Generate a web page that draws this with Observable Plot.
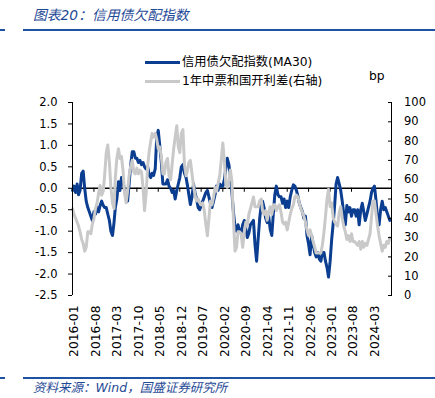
<!DOCTYPE html>
<html><head><meta charset="utf-8">
<script src="https://cdn.jsdelivr.net/npm/d3@7"></script>
<script src="https://cdn.jsdelivr.net/npm/@observablehq/plot@0.6"></script>
<style>
body{margin:0;background:#fff;}
#wrap{position:relative;width:435px;height:398px;overflow:hidden;font-family:"DejaVu Sans","Noto Sans CJK SC",sans-serif;color:#000;}
.abs{position:absolute;white-space:nowrap;}
#chart{position:absolute;left:0;top:0;}
</style></head><body>
<div id="wrap">
  <div id="chart"></div>
  <div class="abs" id="title" style="left:33px;top:6px;font-size:13.8px;line-height:18px;font-style:italic;color:#1F4A96;"></div>
  <div class="abs" style="left:0;top:29px;width:5px;height:2px;background:#1E53A4;"></div>
  <div class="abs" style="left:23px;top:29px;width:412px;height:2px;background:#1E53A4;"></div>
  <div class="abs" id="leg" style="left:0;top:0;"></div>
  <div class="abs" id="unit" style="left:369px;top:68px;font-size:12.3px;line-height:16px;"></div>
  <div class="abs" style="left:0;top:377px;width:5px;height:1.5px;background:#1E53A4;"></div>
  <div class="abs" style="left:23px;top:377px;width:412px;height:1.5px;background:#1E53A4;"></div>
  <div class="abs" id="source" style="left:33px;top:380px;font-size:12.5px;line-height:16px;font-style:italic;color:#1F4A96;"></div>
</div>
<script>
const titleText = "图表20：信用债欠配指数";
const sourceText = "资料来源：Wind，国盛证券研究所";
const seriesNames = ["信用债欠配指数(MA30)", "1年中票和国开利差(右轴)"];
const seriesColors = ["#0B3D91", "#C9C9C9"];
const unitText = "bp";

const months = [
  "2016-01","2016-02","2016-03","2016-04","2016-05","2016-06","2016-07","2016-08","2016-09","2016-10","2016-11","2016-12",
  "2017-01","2017-02","2017-03","2017-04","2017-05","2017-06","2017-07","2017-08","2017-09","2017-10","2017-11","2017-12",
  "2018-01","2018-02","2018-03","2018-04","2018-05","2018-06","2018-07","2018-08","2018-09","2018-10","2018-11","2018-12",
  "2019-01","2019-02","2019-03","2019-04","2019-05","2019-06","2019-07","2019-08","2019-09","2019-10","2019-11","2019-12",
  "2020-01","2020-02","2020-03","2020-04","2020-05","2020-06","2020-07","2020-08","2020-09","2020-10","2020-11","2020-12",
  "2021-01","2021-02","2021-03","2021-04","2021-05","2021-06","2021-07","2021-08","2021-09","2021-10","2021-11","2021-12",
  "2022-01","2022-02","2022-03","2022-04","2022-05","2022-06","2022-07","2022-08","2022-09","2022-10","2022-11","2022-12",
  "2023-01","2023-02","2023-03","2023-04","2023-05","2023-06","2023-07","2023-08","2023-09","2023-10","2023-11","2023-12",
  "2024-01","2024-02","2024-03","2024-04","2024-05","2024-06","2024-07","2024-08"
];
const daysOfMonth = ["01", "16"];

// 信用债欠配指数(MA30), left axis, twice a month
const creditIndex = [
  -0.05,0.05,-0.1,0.1,-0.15,-0.05,0.35,0.4,0.0,-0.3,-0.45,-0.55,-0.65,-0.75,-0.55,-0.6,-0.45,-0.55,-0.4,-0.3,-0.4,-0.45,-0.45,-0.6,
  -0.75,-1.0,-1.1,-0.8,-0.45,-0.25,0.15,-0.05,0.25,0.15,-0.05,-0.2,-0.3,0.1,0.55,0.85,0.85,0.7,0.7,0.6,0.65,0.55,0.6,0.5,
  0.45,0.5,0.3,0.25,0.35,0.3,0.45,1.2,1.35,1.0,0.6,0.1,0.1,0.1,0.2,0.05,0.0,-0.1,-0.05,-0.25,-0.05,0.1,0.25,0.5,
  0.55,0.35,0.25,0.05,-0.15,-0.38,-0.2,0.1,-0.1,-0.25,-0.45,-0.5,-0.4,-0.3,-0.2,-0.1,-0.05,-0.2,-0.35,-0.45,-0.3,-0.15,0.05,-0.05,
  0.1,0.05,0.05,0.2,0.45,0.7,0.55,0.3,-0.1,-0.55,-0.9,-1.0,-0.85,-1.0,-1.05,-0.85,-0.75,-0.95,-1.15,-1.05,-0.85,-0.8,-0.75,-1.3,
  -1.7,-1.2,-0.7,-0.4,-0.3,-0.45,-0.7,-0.8,-0.65,-0.95,-1.1,-0.6,-0.15,0.05,-0.15,-0.2,-0.2,-0.35,-0.25,-0.45,-0.3,-0.45,-0.2,-0.05,
  0.08,0.05,-0.05,-0.2,-0.35,-0.45,-0.55,-0.7,-0.65,-1.1,-1.3,-1.55,-1.1,-1.3,-1.5,-1.6,-1.5,-1.65,-1.7,-1.5,-1.5,-1.7,-1.85,-2.07,
  -1.7,-1.2,-0.8,-0.35,0.1,0.25,0.1,-0.05,-0.3,-0.6,-0.85,-0.4,-0.55,-0.45,-0.65,-0.5,-0.5,-0.65,-0.5,-0.85,-0.5,-0.35,-0.55,-0.75,
  -0.6,-0.45,-0.3,-0.1,0.0,0.05,-0.3,-0.7,-0.85,-0.5,-0.3,-0.5,-0.45,-0.55,-0.65,-0.75
];

// 1年中票和国开利差 (bp), right axis, twice a month
const spreadBp = [
  45,42,40,38,36,33,29,27,23,25,33,33,32,37,40,45,48,53,57,52,54,63,74,78,
  69,56,48,45,61,71,76,71,72,65,53,48,54,62,67,70,64,63,66,63,65,64,56,44,
  53,67,75,80,84,82,84,81,76,77,72,63,63,69,71,62,60,68,76,82,88,77,74,84,
  86,68,62,65,69,70,63,57,52,49,50,48,47,48,44,37,31,40,49,47,51,56,54,58,
  62,70,79,70,58,56,60,65,59,40,23,25,33,33,32,25,33,38,36,42,45,48,51,46,
  46,46,49,50,44,42,44,39,43,46,42,47,47,44,46,47,43,38,37,38,34,38,42,45,
  47,51,52,51,48,45,43,41,38,34,31,34,31,28,25,22,22,22,22,26,33,41,50,55,
  46,48,40,38,37,36,43,46,40,36,33,29,31,28,32,28,28,27,26,28,24,28,25,27,
  26,29,32,41,49,49,42,36,31,27,23,26,25,28,27,30
];

const xTickLabels = ["2016-01","2016-08","2017-03","2017-10","2018-05","2018-12","2019-07","2020-02","2020-09","2021-04","2021-11","2022-06","2023-01","2023-08","2024-03"];
const leftTicks = [-2.5,-2.0,-1.5,-1.0,-0.5,0.0,0.5,1.0,1.5,2.0];
const rightTicks = [0,10,20,30,40,50,60,70,80,90,100];
const leftDomain = [-2.5, 2.0];
const rightDomain = [0, 100];
const xDomainText = ["2016-01-01", "2024-09-01"];

// build tables
const dates = months.flatMap(m => daysOfMonth.map(d => new Date(`${m}-${d}`)));
const blueData = creditIndex.map((v, i) => ({date: dates[i], v}));
const grayData = spreadBp.map((bp, i) => ({date: dates[i], bp}));
const toLeft = d3.scaleLinear(rightDomain, leftDomain);
const xTickDates = xTickLabels.map(s => new Date(s + "-01"));
const xDomain = xDomainText.map(s => new Date(s));
const fmtMonth = d3.utcFormat("%Y-%m");

const chart = Plot.plot({
  width: 435, height: 398,
  marginTop: 102, marginBottom: 103, marginLeft: 72, marginRight: 44,
  style: {fontFamily: '"DejaVu Sans", sans-serif', fontSize: "11.5px", color: "#000", background: "transparent", overflow: "visible"},
  x: {type: "utc", domain: xDomain, label: null},
  y: {domain: leftDomain, label: null},
  marks: [
    Plot.ruleY([0], {stroke: "#000", strokeWidth: 1.4}),
    Plot.ruleX(xTickDates, {x: d => d, y1: 0, y2: 0, insetBottom: -4, stroke: "#000", strokeWidth: 1}),
    Plot.line(blueData, {x: "date", y: "v", stroke: seriesColors[0], strokeWidth: 3, strokeLinejoin: "round"}),
    Plot.line(grayData, {x: "date", y: d => toLeft(d.bp), stroke: seriesColors[1], strokeWidth: 3, strokeLinejoin: "round"}),
    Plot.ruleX([xDomain[0]], {stroke: "#000", strokeWidth: 1}),
    Plot.ruleX([xDomain[1]], {stroke: "#000", strokeWidth: 1}),
    Plot.axisY(leftTicks, {anchor: "left", tickFormat: d => d.toFixed(1), tickSize: 4, tickPadding: 11, fontSize: 11.5, label: null}),
    Plot.axisY(rightTicks.map(toLeft), {anchor: "right", tickFormat: v => String(Math.round(toLeft.invert(v))), tickSize: -4, tickPadding: 16.5, fontSize: 11.5, label: null}),
    Plot.axisX(xTickDates, {anchor: "bottom", tickFormat: fmtMonth, tickRotate: -90, tickSize: 0, tickPadding: 10, fontSize: 12.3, dx: 2, label: null})
  ]
});
document.getElementById("chart").appendChild(chart);

document.getElementById("title").textContent = titleText;
document.getElementById("source").textContent = sourceText;
document.getElementById("unit").textContent = unitText;
const leg = document.getElementById("leg");
seriesNames.forEach((name, i) => {
  const top = 62 + i * 19;
  const line = document.createElement("div");
  line.className = "abs";
  line.style.cssText = `left:145px;top:${top - 1.5}px;width:35px;height:3px;background:${seriesColors[i]};`;
  leg.appendChild(line);
  const t = document.createElement("div");
  t.className = "abs";
  t.style.cssText = `left:182px;top:${top - 8}px;font-size:12.3px;line-height:16px;`;
  t.textContent = name;
  leg.appendChild(t);
});
</script>
</body></html>
